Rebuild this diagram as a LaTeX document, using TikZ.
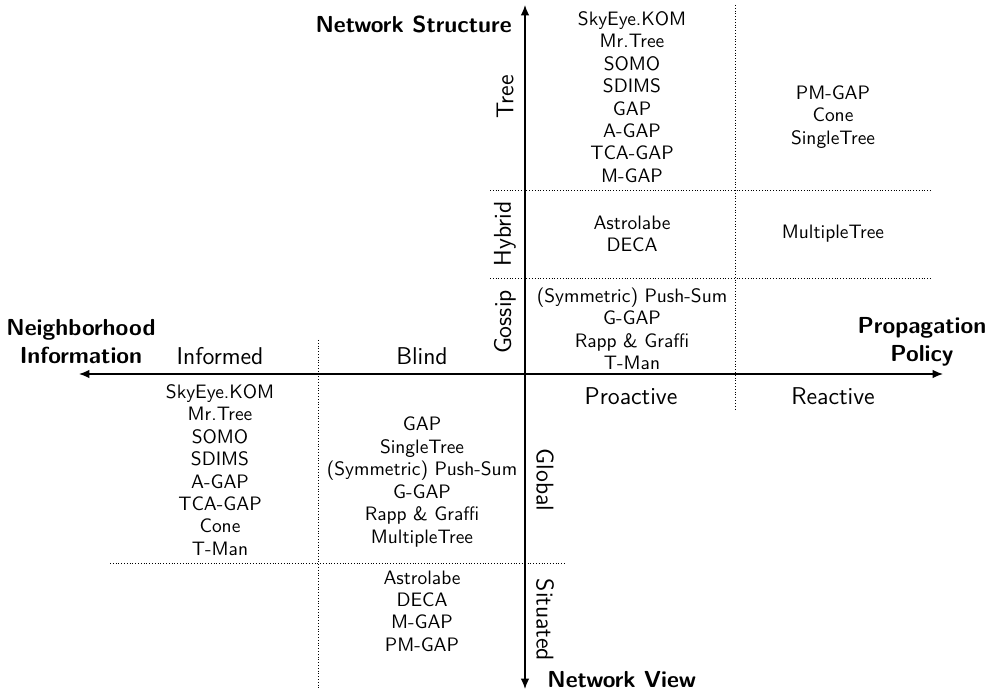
\documentclass[tikz,border=0pt]{standalone}
\usetikzlibrary{arrows.meta}
\tikzstyle{entry} = [align=center, font=\sffamily\fontsize{10.4}{12}\selectfont, inner sep=0pt]
\tikzstyle{category} = [font=\sffamily\fontsize{13}{15}\selectfont, inner sep=0pt]
\tikzstyle{axislabel} = [align=center, font=\sffamily\bfseries\fontsize{12.4}{15}\selectfont, inner sep=0pt]
\tikzstyle{axis} = [line width=0.7pt,<->,>={Latex[length=5.5pt,width=4.5pt]}]
\tikzstyle{divider} = [densely dotted, line width=0.5pt]

\begin{document}
\begin{tikzpicture}[x=0.01881cm, y=-0.01881cm]
\useasboundingbox (0,0) rectangle (994,693);

% axes
\coordinate (vtop) at (525,5);
\coordinate (vbot) at (525,689);
\coordinate (hleft) at (79,374);
\coordinate (hright) at (943,374);
\draw [axis] (vbot) -- (vtop);
\draw [axis] (hleft) -- (hright);

% dividers
\coordinate (d1a) at (735,5);   \coordinate (d1b) at (735,410);
\coordinate (d2a) at (490,190); \coordinate (d2b) at (932,190);
\coordinate (d3a) at (490,278); \coordinate (d3b) at (932,278);
\coordinate (d4a) at (318,340); \coordinate (d4b) at (318,688);
\coordinate (d5a) at (110,563); \coordinate (d5b) at (565,563);
\draw [divider] (d1a) -- (d1b);
\draw [divider] (d2a) -- (d2b);
\draw [divider] (d3a) -- (d3b);
\draw [divider] (d4a) -- (d4b);
\draw [divider] (d5a) -- (d5b);

% axis titles
\node (structure) [axislabel, anchor=east] at (512,24) {Network Structure};
\node (view) [axislabel, anchor=west] at (547,680) {Network View};
\node (neighbor) [axislabel] at (81,342) {Neighborhood\\Information};
\node (policy) [axislabel] at (922,342) {Propagation\\Policy};

% categories
\node (tree) [category, rotate=90] at (505,97) {Tree};
\node (hybrid) [category, rotate=90] at (505,234) {Hybrid};
\node (gossip) [category, rotate=90] at (505,322) {Gossip};
\node (global) [category, rotate=-90] at (545,480) {Global};
\node (situated) [category, rotate=-90] at (545,620) {Situated};
\node (informed) [category] at (220,356) {Informed};
\node (blind) [category] at (422,356) {Blind};
\node (proactive) [category] at (631,396) {Proactive};
\node (reactive) [category] at (833,396) {Reactive};

% entries
\node (treepro) [entry] at (632,97) {SkyEye.KOM\\Mr.Tree\\SOMO\\SDIMS\\GAP\\A-GAP\\TCA-GAP\\M-GAP};
\node (treere) [entry] at (833,117) {PM-GAP\\Cone\\SingleTree};
\node (hybpro) [entry] at (632,234) {Astrolabe\\DECA};
\node (hybre) [entry] at (833,234) {MultipleTree};
\node (gospro) [entry] at (632,329) {(Symmetric) Push-Sum\\G-GAP\\Rapp \& Graffi\\T-Man};
\node (globinf) [entry] at (220,470) {SkyEye.KOM\\Mr.Tree\\SOMO\\SDIMS\\A-GAP\\TCA-GAP\\Cone\\T-Man};
\node (globbl) [entry] at (422,482) {GAP\\SingleTree\\(Symmetric) Push-Sum\\G-GAP\\Rapp \& Graffi\\MultipleTree};
\node (sitbl) [entry] at (422,611) {Astrolabe\\DECA\\M-GAP\\PM-GAP};

\end{tikzpicture}
\end{document}
